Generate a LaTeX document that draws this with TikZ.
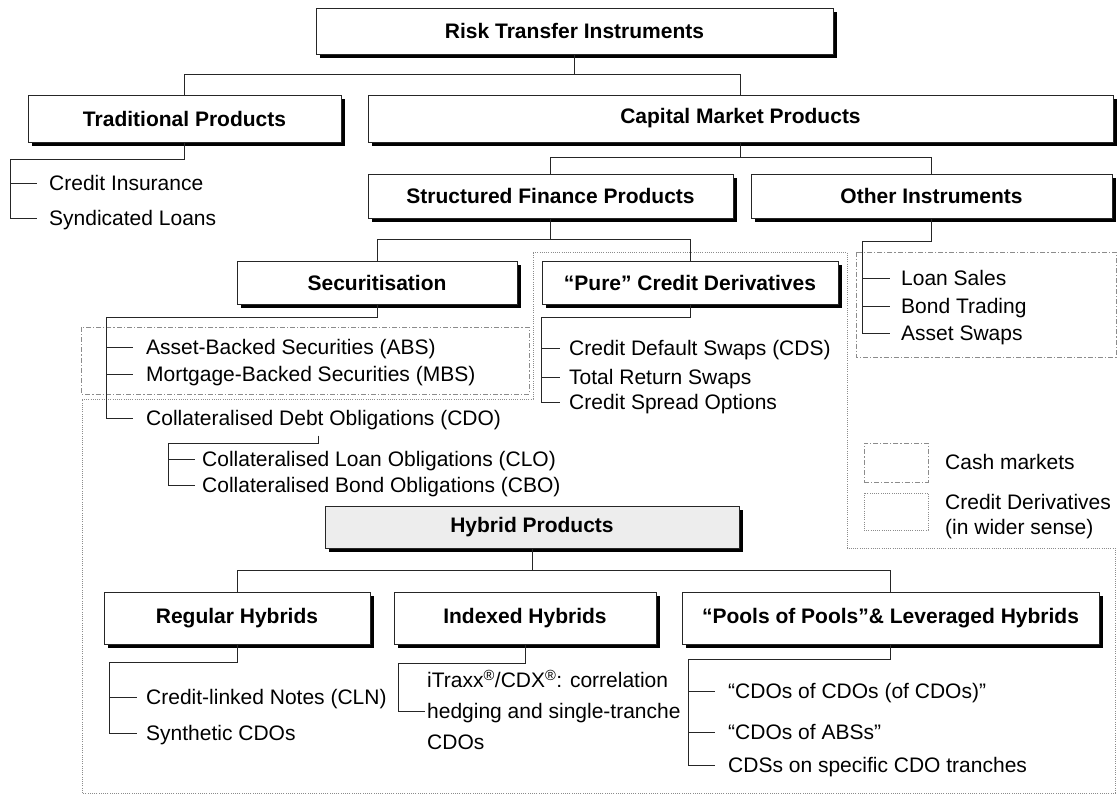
\documentclass[tikz,border=0pt]{standalone}
\usepackage{fontspec}
\setmainfont{Liberation Sans}
\usetikzlibrary{shadows}
\newcommand{\diagfont}{\fontsize{21}{27}\selectfont}

\begin{document}
\begin{tikzpicture}[x=1pt, y=-1pt,
	box/.style={draw=black!85, line width=1pt, fill=white, inner sep=0pt, font=\diagfont\bfseries,
		drop shadow={shadow xshift=4pt, shadow yshift=-4pt, fill=black, opacity=1}},
	item/.style={anchor=west, inner sep=0pt, font=\diagfont, text height=15pt, text depth=0pt},
	link/.style={draw=black!85, line width=1pt},
	cash/.style={draw=black!45, line width=1pt, dash pattern=on 5pt off 2pt on 1.2pt off 2pt},
	wider/.style={draw=black!45, line width=1pt, dash pattern=on 1pt off 1.2pt}]

	\fill[white] (0,0) rectangle (1117,795);
	\useasboundingbox (0,0) rectangle (1117,795);

	\draw[cash] (81,327) rectangle (529,394);
	\draw[cash] (856,252) rectangle (1116,357);
	\draw[wider] (533,252) -- (847,252) -- (847,548) -- (1115,548) -- (1115,793) -- (82,793) -- (82,399) -- (533,399) -- cycle;

	\node[box, minimum width=517pt, minimum height=46pt] (risk) at (574.5,31) {Risk Transfer Instruments};
	\node[box, minimum width=313pt, minimum height=47pt] (trad) at (184.5,118.5) {Traditional Products};
	\node[box, minimum width=745pt, minimum height=47pt] (capital) at (740.5,118.5) {Capital Market Products};
	\node[box, minimum width=365pt, minimum height=44pt] (struct) at (550.5,196) {Structured Finance Products};
	\node[box, minimum width=361pt, minimum height=44pt] (other) at (931.5,196) {Other Instruments};
	\node[box, minimum width=280pt, minimum height=43pt] (secur) at (377,282.5) {Securitisation};
	\node[box, minimum width=296pt, minimum height=43pt] (pure) at (690,282.5) {“Pure” Credit Derivatives};
	\node[box, fill=black!7, minimum width=414pt, minimum height=42pt] (hybrid) at (532,527) {Hybrid Products};
	\node[box, minimum width=266pt, minimum height=52pt] (regular) at (237,618) {Regular Hybrids};
	\node[box, minimum width=262pt, minimum height=52pt] (indexed) at (525,618) {Indexed Hybrids};
	\node[box, minimum width=417pt, minimum height=52pt] (pools) at (890.5,618) {“Pools of Pools”\& Leveraged Hybrids};

	\node[item] (ci) at (49,183) {Credit Insurance};
	\node[item] (sl) at (49,218) {Syndicated Loans};
	\node[item] (ls) at (901,278) {Loan Sales};
	\node[item] (bt) at (901,306) {Bond Trading};
	\node[item] (as) at (901,333) {Asset Swaps};
	\node[item] (abs) at (146,347) {Asset-Backed Securities (ABS)};
	\node[item] (mbs) at (146,374) {Mortgage-Backed Securities (MBS)};
	\node[item] (cdo) at (146,418) {Collateralised Debt Obligations (CDO)};
	\node[item] (clo) at (202,459) {Collateralised Loan Obligations (CLO)};
	\node[item] (cbo) at (202,485) {Collateralised Bond Obligations (CBO)};
	\node[item] (cds) at (569,348) {Credit Default Swaps (CDS)};
	\node[item] (trs) at (569,377) {Total Return Swaps};
	\node[item] (cso) at (569,402) {Credit Spread Options};
	\node[item] (cln) at (146,697) {Credit-linked Notes (CLN)};
	\node[item] (syn) at (146,733) {Synthetic CDOs};
	\node[anchor=west, inner sep=0pt, align=left, font=\fontsize{21}{31}\selectfont] (itx) at (427,710)
		{iTraxx\textsuperscript{\textregistered}/CDX\textsuperscript{\textregistered}: correlation\\hedging and single-tranche\\CDOs};
	\node[item] (cc) at (728,691) {“CDOs of CDOs (of CDOs)”};
	\node[item] (ca) at (728,732) {“CDOs of ABSs”};
	\node[item] (ct) at (728,765) {CDSs on specific CDO tranches};

	\node[cash, minimum width=64pt, minimum height=39pt] (key1) at (896,462.5) {};
	\node[wider, minimum width=64pt, minimum height=37pt] (key2) at (896,511.5) {};
	\node[item] (cashtxt) at (945,462) {Cash markets};
	\node[anchor=west, inner sep=0pt, align=left, font=\fontsize{21}{25}\selectfont] (widetxt) at (945,517)
		{Credit Derivatives\\(in wider sense)};

	\draw[link] (risk.south) -- ++(0,20) coordinate (r0);
	\draw[link] (trad.north) |- (r0) -| (capital.north);
	\draw[link] (capital.south) -- ++(0,15) coordinate (c0);
	\draw[link] (struct.north) |- (c0) -| (other.north);
	\draw[link] (struct.south) -- ++(0,21) coordinate (s0);
	\draw[link] (secur.north) |- (s0) -| (pure.north);
	\draw[link] (hybrid.south) -- ++(0,22) coordinate (h0);
	\draw[link] (regular.north) |- (h0) -| (pools.north);

	\draw[link] (trad.south) -- ++(0,17) -| ([xshift=-39pt]sl.west);
	\foreach \n in {ci,sl}
		\draw[link] ([xshift=-39pt]\n.west) -- ([xshift=-12pt]\n.west);
	\draw[link] (other.south) -- ++(0,23) -| ([xshift=-39pt]as.west);
	\foreach \n in {ls,bt,as}
		\draw[link] ([xshift=-39pt]\n.west) -- ([xshift=-11pt]\n.west);
	\draw[link] (secur.south) -- ++(0,13) -| ([xshift=-40pt]cdo.west);
	\foreach \n in {abs,mbs,cdo}
		\draw[link] ([xshift=-40pt]\n.west) -- ([xshift=-13pt]\n.west);
	\draw[link] ([xshift=172pt,yshift=-10pt]cdo.south west) -- ++(0,8) -| ([xshift=-34pt]cbo.west);
	\foreach \n in {clo,cbo}
		\draw[link] ([xshift=-34pt]\n.west) -- ([xshift=-7pt]\n.west);
	\draw[link] (pure.south) -- ++(0,13) -| ([xshift=-28pt]cso.west);
	\foreach \n in {cds,trs,cso}
		\draw[link] ([xshift=-28pt]\n.west) -- ([xshift=-9pt]\n.west);
	\draw[link] (regular.south) -- ++(0,18) -| ([xshift=-37pt]syn.west);
	\foreach \n in {cln,syn}
		\draw[link] ([xshift=-37pt]\n.west) -- ([xshift=-9pt]\n.west);
	\draw[link] (indexed.south) -- ++(0,19) -| ([xshift=-29pt,yshift=-1pt]itx.west) -- ([xshift=-2pt,yshift=-1pt]itx.west);
	\draw[link] (pools.south) -- ++(0,15) -| ([xshift=-40pt]ct.west);
	\foreach \n in {cc,ca,ct}
		\draw[link] ([xshift=-40pt]\n.west) -- ([xshift=-13pt]\n.west);
\end{tikzpicture}
\end{document}
